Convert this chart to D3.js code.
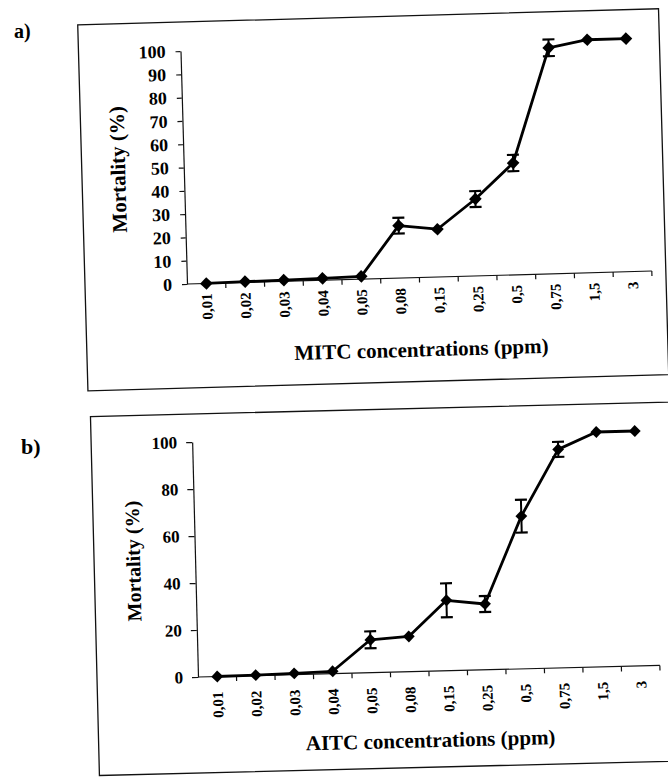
<!DOCTYPE html>
<html>
<head>
<meta charset="utf-8">
<script src="https://cdn.jsdelivr.net/npm/d3@7"></script>
<style>
  html, body { margin: 0; padding: 0; background: #fff; }
  svg { display: block; }
  text { font-family: "Liberation Serif", "Times New Roman", serif; font-weight: bold; fill: #000; }
</style>
</head>
<body>
<svg id="chart" width="668" height="780"></svg>
<script>
// ---- data ----
const categories = ["0,01","0,02","0,03","0,04","0,05","0,08","0,15","0,25","0,5","0,75","1,5","3"];
const mitcMortality = [0, 0.3, 0.5, 0.8, 1.2, 22.5, 20.5, 33, 48, 97, 100, 100];
const mitcError     = [0, 0, 0, 0, 0, 3.4, 0, 3.4, 3.5, 3.6, 0, 0];
const aitcMortality = [0, 0.2, 0.5, 1, 14, 15, 30, 28, 65, 93, 100, 100];
const aitcError     = [0, 0, 0, 0, 3.6, 0, 7.2, 3.4, 7, 3.2, 0, 0];
const yTicksA = [0, 10, 20, 30, 40, 50, 60, 70, 80, 90, 100];
const yTicksB = [0, 20, 40, 60, 80, 100];
const panelLabels = ["a)", "b)"];
const xTitles = ["MITC concentrations (ppm)", "AITC concentrations (ppm)"];
const yTitle = "Mortality (%)";

const svg = d3.select("#chart");

function drawPanel(cfg) {
  // panel letter (not rotated)
  svg.append("text")
    .attr("x", cfg.labelX).attr("y", cfg.labelY)
    .style("font-size", cfg.labelSize + "px")
    .text(cfg.label);

  const g = svg.append("g")
    .attr("transform", `translate(${cfg.ox},${cfg.oy}) rotate(${cfg.angle})`);

  // frame
  g.append("rect")
    .attr("x", cfg.frame[0]).attr("y", cfg.frame[1])
    .attr("width", cfg.frame[2]).attr("height", cfg.frame[3])
    .attr("fill", "none").attr("stroke", "#111").attr("stroke-width", 1.3);

  const x = d3.scaleBand().domain(categories).range([0, cfg.W]).padding(0);
  const y = d3.scaleLinear().domain([0, 100]).range([0, -cfg.H]);
  const cx = c => x(c) + x.bandwidth() / 2;

  // y axis
  const yAxis = d3.axisLeft(y).tickValues(cfg.yTicks).tickSize(cfg.yTickSize)
    .tickSizeOuter(0).tickPadding(cfg.yTickPad).tickFormat(d3.format("d"));
  const ya = g.append("g").call(yAxis);
  ya.select(".domain").attr("stroke", "#111").attr("stroke-width", 1.2);
  ya.selectAll(".tick line").attr("stroke", "#111").attr("stroke-width", 1.2);
  ya.selectAll(".tick text")
    .style("font-size", cfg.yTickFont + "px")
    .style("font-family", '"Liberation Serif", "Times New Roman", serif')
    .style("font-weight", "bold").attr("fill", "#000");

  // x axis (line + ticks at category boundaries)
  const xa = g.append("g");
  xa.append("line").attr("x1", 0).attr("x2", cfg.W).attr("y1", 0).attr("y2", 0)
    .attr("stroke", "#111").attr("stroke-width", 1.2);
  const bounds = categories.map(c => x(c)).concat([cfg.W]);
  xa.selectAll("line.tk").data(bounds.slice(1)).join("line").attr("class", "tk")
    .attr("x1", d => d).attr("x2", d => d).attr("y1", 0).attr("y2", 5)
    .attr("stroke", "#111").attr("stroke-width", 1.2);
  xa.selectAll("text.xl").data(categories).join("text").attr("class", "xl")
    .attr("transform", d => `translate(${cx(d)},${cfg.xLabGap}) rotate(-90)`)
    .attr("text-anchor", "end").attr("dy", "0.35em")
    .style("font-size", cfg.xTickFont + "px")
    .text(d => d);

  // titles
  g.append("text")
    .attr("x", cfg.W / 2).attr("y", cfg.xTitleY)
    .attr("text-anchor", "middle")
    .style("font-size", cfg.xTitleFont + "px")
    .text(cfg.xTitle);
  g.append("text")
    .attr("transform", `translate(${cfg.yTitleX},${-cfg.H / 2}) rotate(-90)`)
    .attr("text-anchor", "middle").attr("dy", "0.35em")
    .style("font-size", cfg.yTitleFont + "px")
    .text(yTitle);

  const pts = categories.map((c, i) => ({ c, v: cfg.values[i], e: cfg.errors[i] }));

  // line
  g.append("path").datum(pts)
    .attr("fill", "none").attr("stroke", "#000").attr("stroke-width", 2.8)
    .attr("stroke-linejoin", "round")
    .attr("d", d3.line().x(d => cx(d.c)).y(d => y(d.v)));

  // error bars
  const eb = g.selectAll("g.eb").data(pts.filter(d => d.e > 0)).join("g").attr("class", "eb");
  eb.append("line")
    .attr("x1", d => cx(d.c)).attr("x2", d => cx(d.c))
    .attr("y1", d => y(d.v - d.e)).attr("y2", d => y(d.v + d.e))
    .attr("stroke", "#000").attr("stroke-width", 2);
  [-1, 1].forEach(sgn => {
    eb.append("line")
      .attr("x1", d => cx(d.c) - cfg.cap).attr("x2", d => cx(d.c) + cfg.cap)
      .attr("y1", d => y(d.v + sgn * d.e)).attr("y2", d => y(d.v + sgn * d.e))
      .attr("stroke", "#000").attr("stroke-width", 2.2);
  });

  // markers (diamonds)
  g.selectAll("path.mk").data(pts).join("path").attr("class", "mk")
    .attr("transform", d => `translate(${cx(d.c)},${y(d.v)}) rotate(45)`)
    .attr("d", d3.symbol().type(d3.symbolSquare).size(cfg.markerSize)())
    .attr("fill", "#000");
}

drawPanel({
  label: panelLabels[0], labelX: 14, labelY: 38, labelSize: 20,
  ox: 187, oy: 284, angle: -1.6, W: 465, H: 233,
  frame: [-102, -262, 581, 366],
  values: mitcMortality, errors: mitcError, yTicks: yTicksA,
  yTickSize: 5, yTickPad: 10, yTickFont: 18,
  xTickFont: 15, xLabGap: 10,
  xTitle: xTitles[0], xTitleY: 79, xTitleFont: 21,
  yTitleX: -66, yTitleFont: 21,
  cap: 6, markerSize: 80
});

drawPanel({
  label: panelLabels[1], labelX: 21, labelY: 454, labelSize: 22,
  ox: 198, oy: 677, angle: -1.43, W: 462, H: 235,
  frame: [-101, -263, 640, 359],
  values: aitcMortality, errors: aitcError, yTicks: yTicksB,
  yTickSize: 6, yTickPad: 9, yTickFont: 17,
  xTickFont: 15, xLabGap: 15,
  xTitle: xTitles[1], xTitleY: 76, xTitleFont: 21,
  yTitleX: -62, yTitleFont: 20,
  cap: 6, markerSize: 70
});
</script>
</body>
</html>
